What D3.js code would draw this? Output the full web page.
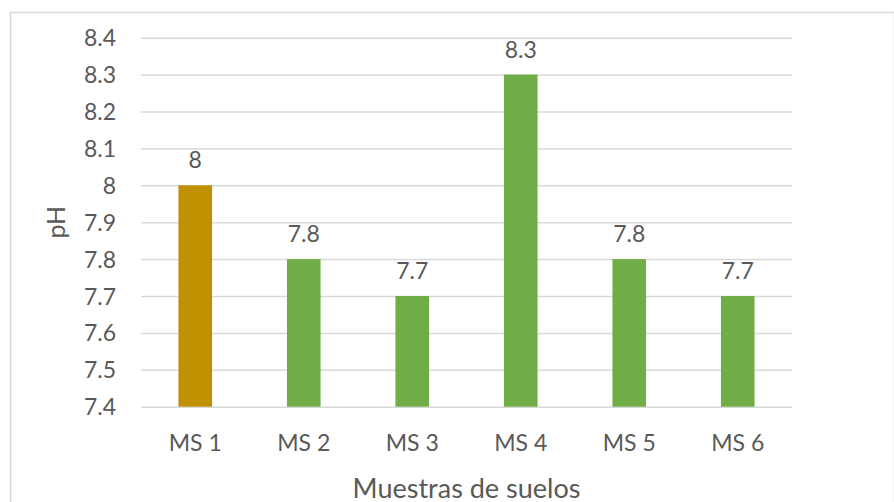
<!DOCTYPE html>
<html><head><meta charset="utf-8">
<script src="https://cdn.jsdelivr.net/npm/d3@7"></script>
<style>
html,body{margin:0;padding:0;background:#fff;}
svg{display:block;}
text{font-family:Lato,"Open Sans",sans-serif;fill:#595959;}
</style></head>
<body>
<svg id="chart" width="894" height="502"></svg>
<script>
const categories = ["MS 1","MS 2","MS 3","MS 4","MS 5","MS 6"];
const phValues = [8, 7.8, 7.7, 8.3, 7.8, 7.7];
const valueLabels = ["8","7.8","7.7","8.3","7.8","7.7"];
const yTicks = [7.4,7.5,7.6,7.7,7.8,7.9,8,8.1,8.2,8.3,8.4];
const yTickLabels = ["7.4","7.5","7.6","7.7","7.8","7.9","8","8.1","8.2","8.3","8.4"];
const barColors = ["#BF9000","#70AD47","#70AD47","#70AD47","#70AD47","#70AD47"];
const xTitle = "Muestras de suelos";
const yTitle = "pH";

(function(){
const svg = d3.select("#chart");
const W = 894, H = 502;
const pl = 141, pr = 792, pt = 37.7, pb = 406.7;

// outer chart border
svg.append("rect").attr("x",10.5).attr("y",12.5).attr("width",W-10).attr("height",H)
  .attr("fill","#fff").attr("stroke","#D9D9D9").attr("stroke-width",1.5);

const x = d3.scaleBand().domain(categories).range([pl,pr]).paddingInner(0.69).paddingOuter(0.345);
const y = d3.scaleLinear().domain([7.4,8.4]).range([pb,pt]);

// gridlines
const yAxis = d3.axisLeft(y).tickValues(yTicks)
  .tickFormat((d,i)=>yTickLabels[i]).tickSize(-(pr-pl)).tickPadding(25);
const gy = svg.append("g").attr("transform",`translate(${pl},0)`).call(yAxis);
gy.select(".domain").remove();
gy.selectAll(".tick line").attr("stroke","#D9D9D9").attr("stroke-width",1.5);
gy.selectAll(".tick text").attr("font-size",23).attr("fill","#595959")
  .attr("font-family","Lato, 'Open Sans', sans-serif").attr("dy","0.35em");

// bars
svg.append("g").selectAll("rect").data(phValues).join("rect")
  .attr("x",(d,i)=>x(categories[i]))
  .attr("width",x.bandwidth())
  .attr("y",d=>y(d))
  .attr("height",d=>y(7.4)-y(d))
  .attr("fill",(d,i)=>barColors[i]);

// value labels
svg.append("g").selectAll("text").data(phValues).join("text")
  .attr("x",(d,i)=>x(categories[i])+x.bandwidth()/2)
  .attr("y",d=>y(d)-17)
  .attr("text-anchor","middle").attr("font-size",23)
  .text((d,i)=>valueLabels[i]);

// x axis
const xAxis = d3.axisBottom(x).tickSize(0).tickPadding(0);
const gx = svg.append("g").attr("transform",`translate(0,${pb})`).call(xAxis);
gx.select(".domain").remove();
gx.selectAll(".tick text").attr("font-size",23).attr("fill","#595959")
  .attr("font-family","Lato, 'Open Sans', sans-serif").attr("dy",0).attr("y",44);

// axis titles
svg.append("text").attr("x",(pl+pr)/2).attr("y",497.5)
  .attr("text-anchor","middle").attr("font-size",27).text(xTitle);
svg.append("text").attr("transform",`translate(65,${(pt+pb)/2}) rotate(-90)`)
  .attr("text-anchor","middle").attr("font-size",25).text(yTitle);
})();
</script>
</body></html>
